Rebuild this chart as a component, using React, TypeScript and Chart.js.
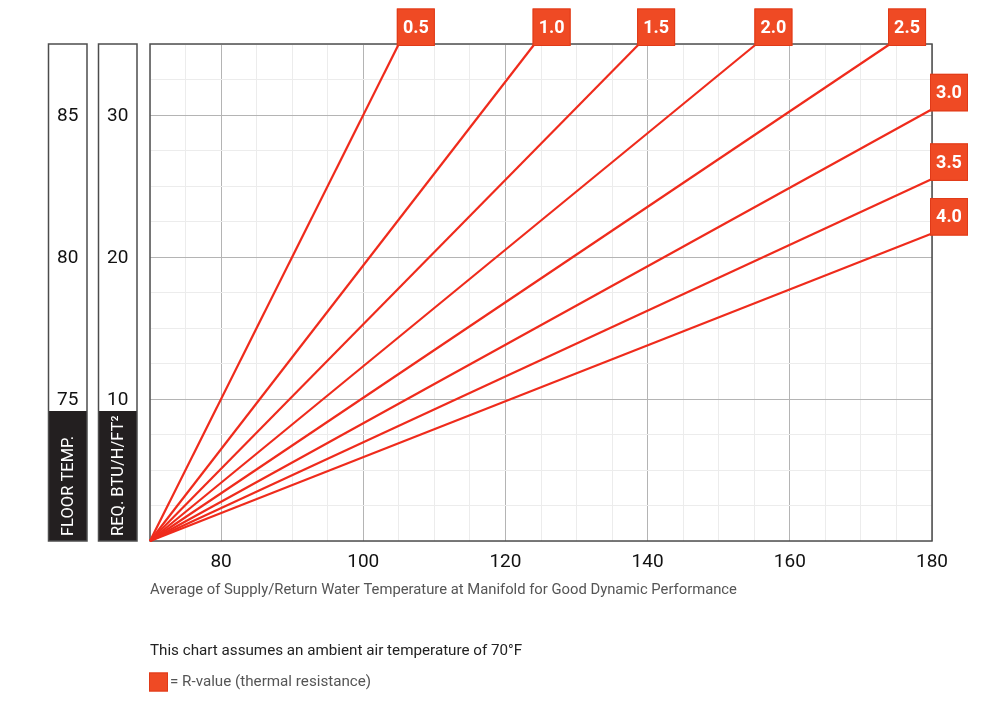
import React, { useEffect, useRef } from "react";
import { Chart, registerables } from "chart.js";

Chart.register(...registerables);

// ---------- data ----------
const ambientTemp = 70;
const rValueLabels = ["0.5", "1.0", "1.5", "2.0", "2.5", "3.0", "3.5", "4.0"];
const endWaterTemps = [105.0, 124.1, 138.8, 155.3, 174.1, 180, 180, 180];
const endBtuValues = [35, 35, 35, 35, 35, 30.4, 25.5, 21.65];
const xTickLabels = [80, 100, 120, 140, 160, 180];
const btuTickLabels = [10, 20, 30];
const floorTickLabels = [75, 80, 85];
const xAxisTitle =
  "Average of Supply/Return Water Temperature at Manifold for Good Dynamic Performance";
const noteText = "This chart assumes an ambient air temperature of 70°F";
const legendText = "= R-value (thermal resistance)";
const floorAxisTitle = "FLOOR TEMP.";
const btuAxisTitle = "REQ. BTU/H/FT²";

// ---------- styles ----------
const FONT = "Roboto, 'Noto Sans', sans-serif";
const LINE_RED = "#ef2b1c";
const BOX_RED = "#ef4a24";
const MAJOR_GRID = "#b4b4b4";
const MINOR_GRID = "#ececec";
const FRAME = "#4d4d4d";

const decorPlugin = {
  id: "decor",
  beforeDatasetsDraw(chart: any) {
    const { ctx, chartArea } = chart;
    ctx.save();
    ctx.strokeStyle = FRAME;
    ctx.lineWidth = 1.5;
    ctx.strokeRect(
      chartArea.left,
      chartArea.top,
      chartArea.right - chartArea.left,
      chartArea.bottom - chartArea.top
    );
    ctx.restore();
  },
  afterDatasetsDraw(chart: any) {
    const { ctx } = chart;
    ctx.save();
    chart.data.datasets.forEach((ds: any, i: number) => {
      const meta = chart.getDatasetMeta(i);
      const pt = meta.data[meta.data.length - 1];
      if (!pt) return;
      const bx = pt.x - 2;
      const by = pt.y - 35.5;
      const bw = 38;
      const bh = 37.5;
      ctx.fillStyle = BOX_RED;
      ctx.fillRect(bx, by, bw, bh);
      ctx.strokeStyle = "#e03a18";
      ctx.lineWidth = 1;
      ctx.strokeRect(bx + 0.5, by + 0.5, bw - 1, bh - 1);
      ctx.fillStyle = "#ffffff";
      ctx.font = `bold 18px ${FONT}`;
      ctx.textAlign = "center";
      ctx.textBaseline = "middle";
      ctx.fillText(ds.label, bx + bw / 2, by + bh / 2 + 1);
    });
    ctx.restore();
  },
  afterDraw(chart: any) {
    const { ctx, chartArea } = chart;
    const top = chartArea.top;
    const bottom = chartArea.bottom;
    const blackH = 130;
    const boxW = 38.5;
    const drawSideBox = (
      scale: any,
      ticks: number[],
      title: string,
      mapLabel: (v: number) => string
    ) => {
      const left = scale.left + 0.5;
      const cx = left + boxW / 2;
      ctx.save();
      ctx.fillStyle = "#ffffff";
      ctx.fillRect(left, top, boxW, bottom - top);
      ctx.fillStyle = "#231f20";
      ctx.fillRect(left, bottom - blackH, boxW, blackH);
      ctx.strokeStyle = FRAME;
      ctx.lineWidth = 1.5;
      ctx.strokeRect(left, top, boxW, bottom - top);
      ctx.fillStyle = "#111111";
      ctx.font = `19px ${FONT}`;
      ctx.textAlign = "center";
      ctx.textBaseline = "middle";
      ticks.forEach((v) => {
        ctx.fillText(mapLabel(v), cx, scale.getPixelForValue(v) + 1);
      });
      ctx.translate(cx, bottom - 5);
      ctx.rotate(-Math.PI / 2);
      ctx.fillStyle = "#ffffff";
      ctx.font = `16.5px ${FONT}`;
      ctx.textAlign = "left";
      ctx.textBaseline = "middle";
      ctx.fillText(title, 0, 1);
      ctx.restore();
    };
    drawSideBox(chart.scales.floor, floorTickLabels, floorAxisTitle, (v) => String(v));
    drawSideBox(chart.scales.y, btuTickLabels, btuAxisTitle, (v) => String(v));

    // note and legend
    ctx.save();
    ctx.textAlign = "left";
    ctx.textBaseline = "middle";
    ctx.font = `15.2px ${FONT}`;
    ctx.fillStyle = "#222222";
    ctx.fillText(noteText, chartArea.left, 651);
    ctx.fillStyle = BOX_RED;
    ctx.fillRect(chartArea.left - 1, 672.5, 19, 19);
    ctx.strokeStyle = "#e03a18";
    ctx.lineWidth = 1;
    ctx.strokeRect(chartArea.left - 0.5, 673, 18, 18);
    ctx.fillStyle = "#555555";
    ctx.fillText(legendText, chartArea.left + 20, 682);
    ctx.restore();
  },
};

export default function App() {
  const canvasRef = useRef<HTMLCanvasElement | null>(null);

  useEffect(() => {
    const canvas = canvasRef.current;
    if (!canvas) return;
    const datasets = rValueLabels.map((label, i) => ({
      label,
      data: [
        { x: ambientTemp, y: 0 },
        { x: endWaterTemps[i], y: endBtuValues[i] },
      ],
      showLine: true,
      borderColor: LINE_RED,
      backgroundColor: LINE_RED,
      borderWidth: 2.2,
      pointRadius: 0,
      pointHoverRadius: 0,
      fill: false,
      clip: false as any,
    }));

    const chart = new Chart(canvas, {
      type: "scatter",
      data: { datasets },
      options: {
        responsive: false,
        animation: false,
        devicePixelRatio: 1,
        layout: { padding: { left: 48, right: 68, top: 44, bottom: 111 } },
        plugins: {
          legend: { display: false },
          tooltip: { enabled: false },
          title: { display: false },
        },
        scales: {
          x: {
            type: "linear",
            position: "bottom",
            min: 70,
            max: 180,
            border: { display: false },
            grid: {
              drawTicks: false,
              lineWidth: 1,
              color: (c: any) =>
                xTickLabels.includes(c.tick?.value) ? MAJOR_GRID : MINOR_GRID,
            },
            ticks: {
              stepSize: 5,
              autoSkip: false,
              maxRotation: 0,
              padding: 10,
              color: "#111111",
              font: { family: FONT, size: 19 },
              callback: (v: any) => (xTickLabels.includes(Number(v)) ? String(v) : ""),
            },
            title: {
              display: true,
              text: xAxisTitle,
              align: "start",
              color: "#555555",
              font: { family: FONT, size: 14.8 },
              padding: { top: 0, bottom: 1.5 },
            },
            afterFit: (scale: any) => {
              scale.height = 60;
            },
          },
          y: {
            type: "linear",
            position: "left",
            weight: 1,
            min: 0,
            max: 35,
            border: { display: false },
            grid: {
              drawTicks: false,
              lineWidth: 1,
              color: (c: any) =>
                btuTickLabels.includes(c.tick?.value) ? MAJOR_GRID : MINOR_GRID,
            },
            ticks: { stepSize: 2.5, display: false, autoSkip: false },
            afterFit: (scale: any) => {
              scale.width = 52;
            },
          },
          floor: {
            type: "linear",
            position: "left",
            weight: 2,
            min: 70,
            max: 87.5,
            border: { display: false },
            grid: { display: false, drawTicks: false },
            ticks: { display: false },
            afterBuildTicks: (scale: any) => {
              scale.ticks = floorTickLabels.map((v) => ({ value: v }));
            },
            afterFit: (scale: any) => {
              scale.width = 50;
            },
          },
        } as any,
      },
      plugins: [decorPlugin],
    } as any);

    return () => chart.destroy();
  }, []);

  return (
    <div style={{ position: "absolute", left: 0, top: 0, width: 1000, height: 712, background: "#fff" }}>
      <canvas ref={canvasRef} width={1000} height={712} style={{ display: "block" }} />
    </div>
  );
}
